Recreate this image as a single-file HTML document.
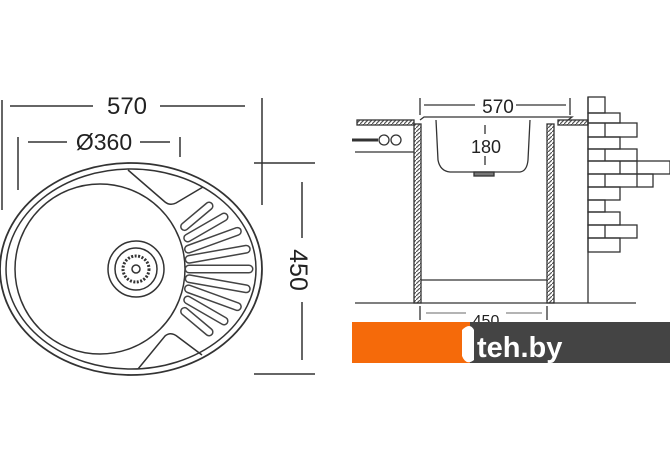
<!DOCTYPE html>
<html><head><meta charset="utf-8"><style>
html,body{margin:0;padding:0;background:#fff;width:670px;height:471px;overflow:hidden}
svg{display:block}
text{font-family:"Liberation Sans",Arial,sans-serif;fill:#222}
</style></head><body>
<svg width="670" height="471" viewBox="0 0 670 471" xmlns="http://www.w3.org/2000/svg">
<defs>
<pattern id="hatch" width="4" height="4" patternUnits="userSpaceOnUse">
<rect width="4" height="4" fill="#fff"/><path d="M0 4 L4 0" stroke="#555" stroke-width="1.2"/>
</pattern>
</defs>
<g stroke="#333" fill="none" stroke-width="1.5">
<line x1="2" y1="100" x2="2" y2="210"/>
<line x1="10" y1="106" x2="93" y2="106"/>
<line x1="160" y1="106" x2="245" y2="106"/>
<line x1="18" y1="137" x2="18" y2="190"/>
<line x1="180" y1="137" x2="180" y2="157"/>
<line x1="28" y1="142" x2="67" y2="142"/>
<line x1="140" y1="142" x2="170" y2="142"/>
<line x1="262" y1="98" x2="262" y2="205"/>
<line x1="254" y1="163" x2="315" y2="163"/>
<line x1="254" y1="374" x2="315" y2="374"/>
<line x1="302" y1="182" x2="302" y2="238"/>
<line x1="302" y1="302" x2="302" y2="360"/>
<ellipse cx="131" cy="269" rx="131" ry="106" stroke-width="1.8"/>
<ellipse cx="131" cy="269" rx="125" ry="100"/>
<path d="M128 170 L165 202 Q170 206 176 203 L203 187"/>
<path d="M138 369 L165 336 Q171 331 178 337 L202 355"/>
<circle cx="100" cy="269" r="85"/>
<circle cx="136" cy="269" r="28"/>
<circle cx="136" cy="269" r="21"/>
<circle cx="136" cy="269" r="13" stroke-dasharray="2 1.5" stroke-width="3"/>
<circle cx="136" cy="269" r="4"/>
</g>
<g transform="translate(134,269)">
<g transform="rotate(-40)"><line x1="66" y1="0" x2="98" y2="0" stroke="#444" stroke-width="9" stroke-linecap="round"/><line x1="66" y1="0" x2="98" y2="0" stroke="#fff" stroke-width="6" stroke-linecap="round"/></g>
<g transform="rotate(-30)"><line x1="62" y1="0" x2="104" y2="0" stroke="#444" stroke-width="9" stroke-linecap="round"/><line x1="62" y1="0" x2="104" y2="0" stroke="#fff" stroke-width="6" stroke-linecap="round"/></g>
<g transform="rotate(-20)"><line x1="58" y1="0" x2="110" y2="0" stroke="#444" stroke-width="9" stroke-linecap="round"/><line x1="58" y1="0" x2="110" y2="0" stroke="#fff" stroke-width="6" stroke-linecap="round"/></g>
<g transform="rotate(-10)"><line x1="56" y1="0" x2="114" y2="0" stroke="#444" stroke-width="9" stroke-linecap="round"/><line x1="56" y1="0" x2="114" y2="0" stroke="#fff" stroke-width="6" stroke-linecap="round"/></g>
<g transform="rotate(0)"><line x1="55" y1="0" x2="115" y2="0" stroke="#444" stroke-width="9" stroke-linecap="round"/><line x1="55" y1="0" x2="115" y2="0" stroke="#fff" stroke-width="6" stroke-linecap="round"/></g>
<g transform="rotate(10)"><line x1="56" y1="0" x2="114" y2="0" stroke="#444" stroke-width="9" stroke-linecap="round"/><line x1="56" y1="0" x2="114" y2="0" stroke="#fff" stroke-width="6" stroke-linecap="round"/></g>
<g transform="rotate(20)"><line x1="58" y1="0" x2="110" y2="0" stroke="#444" stroke-width="9" stroke-linecap="round"/><line x1="58" y1="0" x2="110" y2="0" stroke="#fff" stroke-width="6" stroke-linecap="round"/></g>
<g transform="rotate(30)"><line x1="62" y1="0" x2="104" y2="0" stroke="#444" stroke-width="9" stroke-linecap="round"/><line x1="62" y1="0" x2="104" y2="0" stroke="#fff" stroke-width="6" stroke-linecap="round"/></g>
<g transform="rotate(40)"><line x1="66" y1="0" x2="98" y2="0" stroke="#444" stroke-width="9" stroke-linecap="round"/><line x1="66" y1="0" x2="98" y2="0" stroke="#fff" stroke-width="6" stroke-linecap="round"/></g>
</g>
<text x="127" y="114" font-size="24" text-anchor="middle">570</text>
<text x="104" y="150" font-size="23" text-anchor="middle">Ø360</text>
<text transform="translate(290,270) rotate(90)" font-size="25" text-anchor="middle">450</text>

<g stroke="#333" fill="none" stroke-width="1.3">
<line x1="420" y1="98" x2="420" y2="115"/>
<line x1="570" y1="98" x2="570" y2="115"/>
<line x1="424" y1="105" x2="475" y2="105"/>
<line x1="516" y1="105" x2="566" y2="105"/>
<rect x="357" y="120" width="57" height="5" fill="url(#hatch)"/>
<rect x="558" y="120" width="30" height="5" fill="url(#hatch)"/>
<path d="M420 120 L424 117 L572 117 L568 120"/>
<path d="M436 120 L438 160 Q440 171 450 172 L520 172 Q527 171 528 160 L530 120"/>
<rect x="474" y="172" width="20" height="4" fill="#777"/>
<line x1="485" y1="125" x2="485" y2="134"/>
<line x1="485" y1="156" x2="485" y2="165"/>
<rect x="414" y="124" width="7" height="179" fill="url(#hatch)"/>
<rect x="547" y="124" width="7" height="179" fill="url(#hatch)"/>
<line x1="421" y1="280" x2="547" y2="280"/>
<line x1="355" y1="303" x2="636" y2="303"/>
<line x1="588" y1="97" x2="588" y2="303"/>
<line x1="355" y1="152" x2="414" y2="152"/>
<line x1="352" y1="140" x2="378" y2="140" stroke-width="3"/>
<circle cx="384" cy="140" r="5"/>
<circle cx="396" cy="140" r="5"/>
<line x1="420" y1="306" x2="420" y2="320"/>
<line x1="547" y1="306" x2="547" y2="320"/>
<line x1="426" y1="313" x2="466" y2="313" stroke="#888"/>
<line x1="506" y1="313" x2="542" y2="313" stroke="#888"/>
<rect x="588" y="97" width="17" height="16"/>
<rect x="588" y="113" width="32" height="10"/>
<rect x="588" y="123" width="49" height="14"/><line x1="605" y1="123" x2="605" y2="137"/>
<rect x="588" y="137" width="32" height="12"/>
<rect x="588" y="149" width="49" height="12"/><line x1="605" y1="149" x2="605" y2="161"/>
<rect x="588" y="161" width="82" height="13"/><line x1="620" y1="161" x2="620" y2="174"/><line x1="637" y1="161" x2="637" y2="174"/>
<rect x="588" y="174" width="65" height="13"/><line x1="605" y1="174" x2="605" y2="187"/><line x1="637" y1="174" x2="637" y2="187"/>
<rect x="588" y="187" width="32" height="13"/>
<rect x="588" y="200" width="17" height="12"/>
<rect x="588" y="212" width="32" height="13"/>
<rect x="588" y="225" width="49" height="13"/><line x1="605" y1="225" x2="605" y2="238"/>
<rect x="588" y="238" width="32" height="14"/>
</g>
<text x="498" y="113" font-size="19" text-anchor="middle">570</text>
<text x="486" y="153" font-size="18" text-anchor="middle">180</text>
<text x="486" y="326" font-size="16" text-anchor="middle">450</text>
<rect x="352" y="322" width="118" height="41" fill="#f56a0a"/>
<rect x="470" y="322" width="200" height="41" fill="#444"/>
<path d="M462 330 Q470 322 474 330 L474 360 Q466 366 462 356 Z" fill="#fff"/>
<text x="477" y="357" font-size="29" font-weight="bold" style="fill:#fff">teh.by</text>
</svg>
</body></html>
